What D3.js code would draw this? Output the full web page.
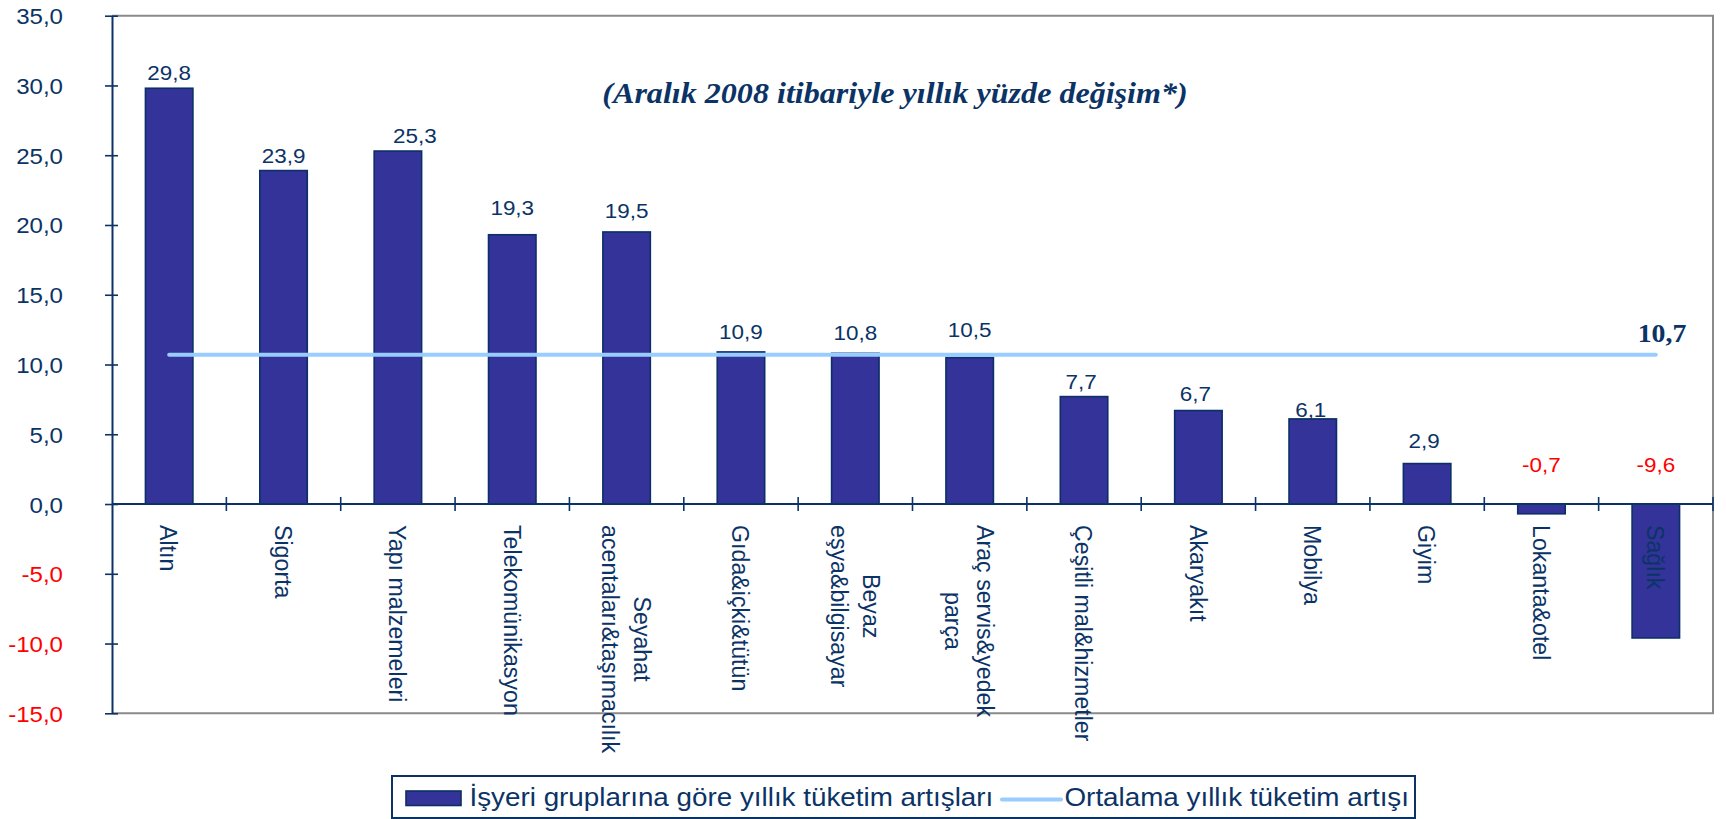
<!DOCTYPE html>
<html><head><meta charset="utf-8">
<script src="https://cdn.jsdelivr.net/npm/d3@7"></script>
<style>
html,body{margin:0;padding:0;background:#fff;}
svg{display:block;}
</style></head><body>
<svg id="c" width="1726" height="819"></svg>
<script>
// ---- data ----
const categories = ["Altın","Sigorta","Yapı malzemeleri","Telekomünikasyon","Seyahat\nacentaları&taşımacılık","Gıda&içki&tütün","Beyaz\neşya&bilgisayar","Araç servis&yedek\nparça","Çeşitli mal&hizmetler","Akaryakıt","Mobilya","Giyim","Lokanta&otel","Sağlık"];
const growth = [29.8,23.9,25.3,19.3,19.5,10.9,10.8,10.5,7.7,6.7,6.1,2.9,-0.7,-9.6];
const averageGrowth = 10.7;
const yTicks = [-15,-10,-5,0,5,10,15,20,25,30,35];
const seriesNames = ["İşyeri gruplarına göre yıllık tüketim artışları","Ortalama yıllık tüketim artışı"];
const title = "(Aralık 2008 itibariyle yıllık yüzde değişim*)";

// ---- layout (label nudges in px, as placed in the original) ----
const labelNudge = [[0,0],[0,0],[17,0],[0,-12],[0,-6],[0,-5],[0,-5],[0,-13],[-3,0],[-3,-2],[-2,6],[-3,-8],[0,0],[0,0]];

(function(){
const pLeft=112, pRight=1713, pTop=15.7, pBottom=713.3;
const sx=1.07;
const navy="#0b3366", barFill="#333399", barStroke="#0b2f66", avgColor="#99ccff", red="#ff0000";
const sans="'Liberation Sans', Arial, Helvetica, sans-serif";
const serif="'Liberation Serif', 'Times New Roman', serif";
const fmt=v=>d3.format(".1f")(v).replace(".",",").replace("\u2212","-");

const svg=d3.select("#c");
const x=d3.scaleBand().domain(categories).range([pLeft,pRight]).paddingInner(0.585).paddingOuter(0.2925);
const y=d3.scaleLinear().domain([-15,35]).range([pBottom,pTop]);
const bw=x.bandwidth();
const cxOf=i=>x(categories[i])+bw/2;

// frame (top, right, bottom)
svg.append("path").attr("d",`M${pLeft},${pTop}H${pRight}V${pBottom}H${pLeft}`)
  .attr("fill","none").attr("stroke","#8a8a8a").attr("stroke-width",2);

// bars
svg.append("g").selectAll("rect").data(growth).join("rect")
  .attr("x",(d,i)=>x(categories[i])).attr("width",bw)
  .attr("y",d=>y(Math.max(0,d))).attr("height",d=>Math.abs(y(d)-y(0)))
  .attr("fill",barFill).attr("stroke",barStroke).attr("stroke-width",1.6);

// average line
svg.append("line")
  .attr("x1",cxOf(0)).attr("x2",cxOf(categories.length-1))
  .attr("y1",y(averageGrowth)).attr("y2",y(averageGrowth))
  .attr("stroke",avgColor).attr("stroke-width",4).attr("stroke-linecap","round");

// y axis
const gy=svg.append("g").attr("transform",`translate(${pLeft},0)`)
  .call(d3.axisLeft(y).tickValues(yTicks).tickSize(7).tickSizeOuter(0).tickFormat(fmt));
gy.attr("font-family",null).attr("font-size",null);
gy.select(".domain").attr("stroke",navy).attr("stroke-width",2);
gy.selectAll(".tick line").attr("x1",6).attr("x2",-7).attr("stroke",navy).attr("stroke-width",1.6);
gy.selectAll(".tick text")
  .attr("x",0).attr("dy",null).attr("y",0)
  .attr("transform",`translate(-49,8) scale(${sx},1)`)
  .attr("text-anchor","end").attr("font-family",sans).attr("font-size",22.5)
  .attr("fill",d=>d<0?red:navy);

// x axis at zero
const x0=y(0);
svg.append("line").attr("x1",pLeft).attr("x2",pRight).attr("y1",x0).attr("y2",x0)
  .attr("stroke",navy).attr("stroke-width",2);
svg.append("g").selectAll("line").data(d3.range(1,categories.length+1)).join("line")
  .attr("x1",i=>pLeft+i*x.step()).attr("x2",i=>pLeft+i*x.step())
  .attr("y1",x0-7).attr("y2",x0+7).attr("stroke",navy).attr("stroke-width",1.6);

// value labels
svg.append("g").selectAll("text").data(growth).join("text")
  .attr("transform",(d,i)=>{
    const nx=cxOf(i)+labelNudge[i][0];
    const ny=d>=0 ? y(d)-8+labelNudge[i][1] : y(0)-32+labelNudge[i][1];
    return `translate(${nx},${ny}) scale(${sx},1)`;})
  .attr("text-anchor","middle").attr("font-family",sans).attr("font-size",21)
  .attr("fill",d=>d<0?red:navy).text(fmt);

// category labels (rotated)
const catG=svg.append("g");
categories.forEach((c,i)=>{
  const lines=c.split("\n"), n=lines.length, L=30;
  const t=catG.append("text")
    .attr("transform",`translate(${cxOf(i)},525) scale(${sx},1) rotate(90)`)
    .attr("font-family",sans).attr("font-size",23.2).attr("fill",navy).attr("text-anchor","middle");
  const spans=lines.map((ln,k)=>t.append("tspan").attr("x",0).attr("y",(k-(n-1)/2)*L).attr("dy","0.35em").text(ln));
  const maxLen=d3.max(spans,s=>s.node().getComputedTextLength());
  spans.forEach(s=>s.attr("x",maxLen/2));
});

// title
svg.append("text").attr("transform",`translate(895,103) scale(${sx},1)`)
  .attr("text-anchor","middle").attr("font-family",serif).attr("font-size",30)
  .attr("font-weight","bold").attr("font-style","italic").attr("fill",navy).text(title);

// average value label
svg.append("text").attr("transform",`translate(1662,342) scale(${sx},1)`)
  .attr("text-anchor","middle").attr("font-family",serif).attr("font-size",26)
  .attr("font-weight","bold").attr("fill",navy).text(fmt(averageGrowth));

// legend
const lg=svg.append("g");
lg.append("rect").attr("x",392).attr("y",776).attr("width",1023).attr("height",42)
  .attr("fill","#fff").attr("stroke",navy).attr("stroke-width",2);
lg.append("rect").attr("x",406).attr("y",791).attr("width",55).attr("height",14.5)
  .attr("fill",barFill).attr("stroke",barStroke).attr("stroke-width",1.6);
lg.append("text").attr("transform",`translate(469.5,805.5) scale(${sx},1)`)
  .attr("font-family",sans).attr("font-size",26).attr("fill",navy).text(seriesNames[0]);
lg.append("line").attr("x1",1002).attr("x2",1061).attr("y1",799.5).attr("y2",799.5)
  .attr("stroke",avgColor).attr("stroke-width",4).attr("stroke-linecap","round");
lg.append("text").attr("transform",`translate(1064.5,805.5) scale(${sx},1)`)
  .attr("font-family",sans).attr("font-size",26).attr("fill",navy).text(seriesNames[1]);
})();
</script>
</body></html>
